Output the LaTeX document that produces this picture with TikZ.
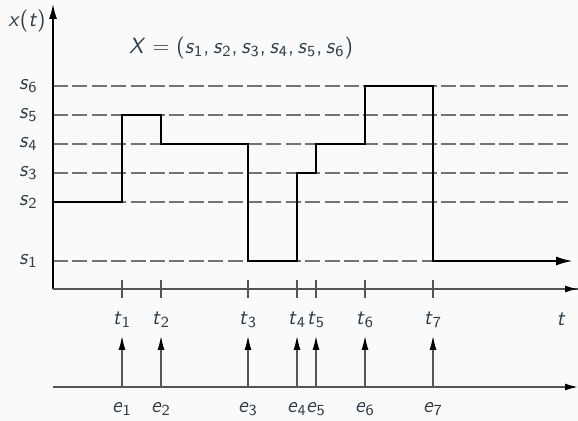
\documentclass[tikz,border=0pt]{standalone}
\usepackage{fontspec}
\usetikzlibrary{arrows.meta}
\definecolor{bgc}{RGB}{250,250,250}
\definecolor{txt}{RGB}{48,62,72}
\definecolor{axc}{RGB}{85,85,85}
\definecolor{dsh}{RGB}{115,115,115}
\newcommand\mv[2]{\textit{#1}\textsubscript{#2}}
\begin{document}
\begin{tikzpicture}[x=0.5pt,y=-0.5pt,
  lbl/.style={text=txt,font=\sffamily\fontsize{11}{13}\selectfont,inner sep=0pt},
  levelline/.style={dsh,line width=0.6pt,dash pattern=on 7.5pt off 2.2pt},
  sig/.style={black,line width=1.1pt},
  axisline/.style={axc,line width=0.8pt},
  tickmark/.style={axc,line width=0.6pt},
  evarrow/.style={axc,line width=0.7pt,-{Latex[length=7pt,width=3.5pt,black]}}
]
\fill[bgc] (0,0) rectangle (578,421);
\useasboundingbox (0,0) rectangle (578,421);

% level lines and labels
\foreach \i/\y in {1/261,2/202,3/173,4/144,5/115,6/86}{
  \coordinate (L\i) at (53,\y);
  \coordinate (R\i) at (568,\y);
  \draw[levelline] (L\i) -- (R\i);
  \node[lbl,anchor=east] (s\i) at (38,\y) {\mv{s}{\i}};
}

% axes
\coordinate (O) at (53,289);
\coordinate (ytop) at (53,4);
\coordinate (xend) at (578,289);
\draw[axisline] (O) -- (xend);
\draw[black,line width=0.7pt,-{Latex[length=7.5pt,width=4pt]}] (O) -- (ytop);
\draw[axisline,-{Latex[length=6.5pt,width=3.5pt,black]}] (O) -- (xend);

% ticks, time labels, events
\coordinate (E0) at (53,387);
\coordinate (E8) at (578,387);
\draw[axisline,-{Latex[length=6.5pt,width=3.5pt,black]}] (E0) -- (E8);
\foreach \i/\x in {1/122,2/161,3/248,4/297,5/316,6/365,7/433}{
  \coordinate (tu\i) at (\x,280);
  \coordinate (td\i) at (\x,298);
  \draw[tickmark] (tu\i) -- (td\i);
  \node[lbl] (t\i) at (\x,320) {\mv{t}{\i}};
  \coordinate (b\i) at (\x,387);
  \coordinate (a\i) at (\x,336);
  \draw[evarrow] (b\i) -- (a\i);
  \node[lbl] (e\i) at (\x,409) {\mv{e}{\i}};
}
\node[lbl] (tlab) at (561,319) {\textit{t}};
\node[lbl] (xlab) at (27,21) {\textit{x}(\textit{t})};
\node[lbl] (title) at (241,48) {\textit{X} = (\mv{s}{1},\,\mv{s}{2},\,\mv{s}{3},\,\mv{s}{4},\,\mv{s}{5},\,\mv{s}{6})};

% signal
\draw[sig,-{Latex[length=8.5pt,width=4.5pt]}]
  (53,202) -- (122,202) -- (122,115) -- (161,115) -- (161,144) -- (248,144)
  -- (248,261) -- (297,261) -- (297,173) -- (316,173) -- (316,144) -- (365,144)
  -- (365,86) -- (433,86) -- (433,261) -- (573,261);
\end{tikzpicture}
\end{document}
